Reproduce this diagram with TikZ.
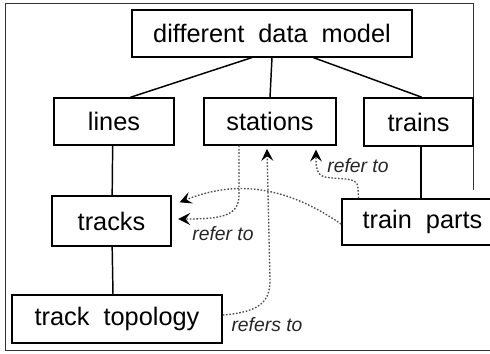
\documentclass[tikz,border=0pt]{standalone}
\usepackage{fontspec}
\setmainfont{Liberation Sans}
\usepackage{tikz}
\usetikzlibrary{arrows.meta,positioning,calc}

\begin{document}
\begin{tikzpicture}[x=0.75pt, y=-0.75pt,
    box/.style={draw, line width=1.1pt, rectangle, inner sep=0pt, font=\fontsize{19}{21}\selectfont},
    link/.style={line width=1.1pt},
    ref/.style={line width=1pt, dash pattern=on 1.2pt off 1.3pt, black!70,
        -{Stealth[length=9pt, width=9pt, inset=3.5pt, color=black]}},
    reflabel/.style={font=\fontsize{14.5}{16}\selectfont\itshape, black!85}]
    \useasboundingbox (0,0) rectangle (490,354);

    % frame of the slide
    \draw[line width=0.6pt, black!80] (473,190) -- (473,3) -- (5,3) -- (5,350) -- (490,350);

    % data model tree
    \node[box, minimum width=210pt, minimum height=35pt] (model) at (272,33.5) {different\ \ data\ \ model};
    \node[box, minimum width=90pt, minimum height=35pt] (lines) at (114,121.5) {lines};
    \node[box, minimum width=99pt, minimum height=35pt] (stations) at (270,121.5) {stations};
    \node[box, minimum width=82pt, minimum height=36pt] (trains) at (418.5,122) {trains};
    \node[box, minimum width=89pt, minimum height=37.5pt] (tracks) at (111.5,221) {tracks};
    \node[box, minimum width=121pt, minimum height=34.5pt] (parts) at (422.5,222) {train\ \ parts};
    \node[box, minimum width=157.5pt, minimum height=36pt] (topology) at (117,319) {track\ \ topology};

    \draw[link] ([xshift=-15pt]model.south) -- ([xshift=12pt]lines.north);
    \draw[link] (model.south) -- (stations.north);
    \draw[link] ([xshift=31pt]model.south) -- ([xshift=2.5pt]trains.north);
    \draw[link] ([xshift=-1pt]lines.south) -- ([xshift=0.5pt]tracks.north);
    \draw[link] ([xshift=0.5pt]tracks.south) -- ([xshift=-3pt]topology.north);
    \draw[link] ([xshift=2pt]trains.south) -- ([xshift=-1pt]parts.north);

    % references between the parts
    \draw[ref] ([xshift=-23.25pt]stations.south) -- (239,195)
        .. controls (239,216) and (222,219) .. ([xshift=5pt, yshift=1.5pt]tracks.east);
    \draw[ref] ([yshift=-1.5pt]parts.west)
        .. controls (280,182) and (230,182) .. ([xshift=6pt, yshift=14pt]tracks.east);
    \draw[ref] ([yshift=3pt]topology.east)
        .. controls (262,312) and (270,300) .. (270,280) -- ([xshift=-2.25pt, yshift=-2.5pt]stations.south);
    \draw[ref] ([xshift=-48pt]parts.north) -- (358,188)
        .. controls (358,176) and (340,180) .. (325,177)
        .. controls (316,175) and (316,165) .. ([xshift=34.5pt, yshift=-3pt]stations.south);

    \node[reflabel] (lab1) at (358,166) {refer\ to};
    \node[reflabel] (lab2) at (223,234) {refer\ to};
    \node[reflabel] (lab3) at (267,325) {refers\ to};
\end{tikzpicture}
\end{document}
